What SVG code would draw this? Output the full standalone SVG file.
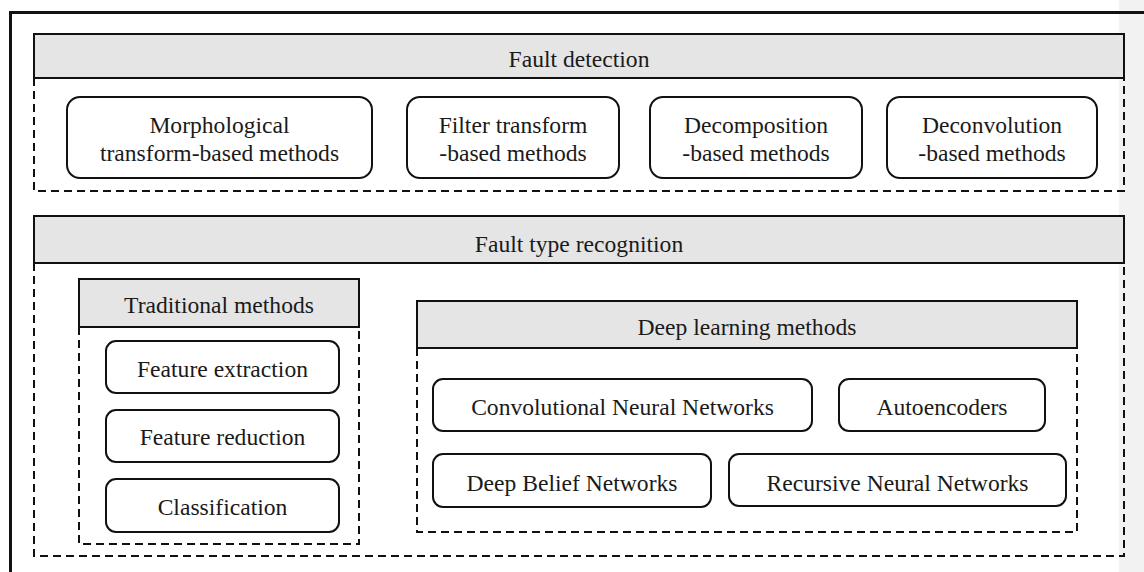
<svg xmlns="http://www.w3.org/2000/svg" width="1144" height="572" viewBox="0 0 1144 572">
<style>
text{font-family:'Liberation Serif','DejaVu Serif',serif;font-size:23.6px;fill:#1a1a1a;text-anchor:middle}
.hdr{fill:#e5e5e5;stroke:#111;stroke-width:2}
.dash{fill:none;stroke:#111;stroke-width:2;stroke-dasharray:8 5}
.node{fill:#fff;stroke:#111;stroke-width:2}
</style>
<rect x="0" y="0" width="1144" height="572" fill="#fff"/>
<rect x="1119" y="0" width="25" height="572" fill="#f2f2f2"/>
<g id="frame">
<path d="M10.5 572 V12.5 H1144" fill="none" stroke="#111" stroke-width="3"/>
</g>
<g id="fault-detection">
<path class="dash" d="M34 78 V191 H1124 V78"/>
<rect class="hdr" x="34" y="34" width="1090" height="44"/>
<text x="579" y="67">Fault detection</text>
</g>
<g id="morph">
<rect class="node" x="67" y="97" width="305" height="81" rx="13"/>
<text x="219.5" y="133">Morphological</text>
<text x="219.5" y="161">transform-based methods</text>
</g>
<g id="filter">
<rect class="node" x="407" y="97" width="212" height="81" rx="13"/>
<text x="513" y="133">Filter transform</text>
<text x="513" y="161">-based methods</text>
</g>
<g id="decomp">
<rect class="node" x="650" y="97" width="212" height="81" rx="13"/>
<text x="756" y="133">Decomposition</text>
<text x="756" y="161">-based methods</text>
</g>
<g id="deconv">
<rect class="node" x="887" y="97" width="210" height="81" rx="13"/>
<text x="992" y="133">Deconvolution</text>
<text x="992" y="161">-based methods</text>
</g>
<g id="fault-type">
<path class="dash" d="M34 263 V556 H1124 V263"/>
<rect class="hdr" x="34" y="216" width="1090" height="47"/>
<text x="579" y="252">Fault type recognition</text>
</g>
<g id="traditional">
<path class="dash" d="M79 327 V544 H359 V327"/>
<rect class="hdr" x="79" y="279" width="280" height="48"/>
<text x="219" y="313">Traditional methods</text>
</g>
<g id="feat-ext">
<rect class="node" x="106" y="341" width="233" height="52" rx="10"/>
<text x="222.5" y="377">Feature extraction</text>
</g>
<g id="feat-red">
<rect class="node" x="106" y="410" width="233" height="52" rx="10"/>
<text x="222.5" y="445">Feature reduction</text>
</g>
<g id="classif">
<rect class="node" x="106" y="479" width="233" height="53" rx="10"/>
<text x="222.5" y="515">Classification</text>
</g>
<g id="deep">
<path class="dash" d="M417 348 V532 H1077 V348"/>
<rect class="hdr" x="417" y="301" width="660" height="47"/>
<text x="747" y="335">Deep learning methods</text>
</g>
<g id="cnn">
<rect class="node" x="433" y="379" width="379" height="52" rx="10"/>
<text x="622.5" y="415">Convolutional Neural Networks</text>
</g>
<g id="ae">
<rect class="node" x="839" y="379" width="206" height="52" rx="10"/>
<text x="942" y="415">Autoencoders</text>
</g>
<g id="dbn">
<rect class="node" x="433" y="454" width="278" height="53" rx="10"/>
<text x="572" y="491">Deep Belief Networks</text>
</g>
<g id="rnn">
<rect class="node" x="729" y="454" width="337" height="52" rx="10"/>
<text x="897.5" y="491">Recursive Neural Networks</text>
</g>
<g id="connectors"></g>
</svg>
